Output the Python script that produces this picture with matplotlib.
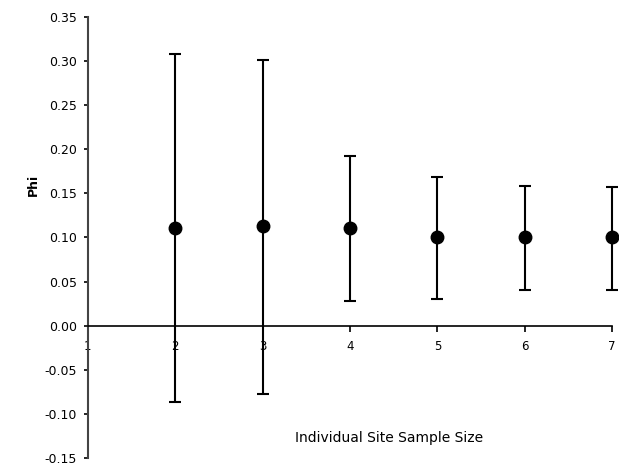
import numpy as np
import matplotlib
matplotlib.use("Agg")
import matplotlib.pyplot as plt

sample_size = [2, 3, 4, 5, 6, 7]
phi = [0.111, 0.113, 0.111, 0.100, 0.100, 0.100]
upper = [0.308, 0.301, 0.192, 0.169, 0.158, 0.157]
lower = [-0.087, -0.078, 0.028, 0.030, 0.040, 0.041]

phi_a = np.array(phi)
err = [phi_a - np.array(lower), np.array(upper) - phi_a]

plt.rcParams['font.family'] = ['DejaVu Sans']
fig = plt.figure(figsize=(6.19, 4.68), dpi=100, facecolor="white")
ax = fig.add_axes([0.142, 0.0214, 0.847, 0.9423])

markers, caps, bars = ax.errorbar(sample_size, phi, yerr=err, fmt='o', color='black',
                                  markersize=9, elinewidth=1.5, capsize=4.3, capthick=1.5)
markers.set_clip_on(False)
for c in caps:
    c.set_clip_on(False)
for b in bars:
    b.set_clip_on(False)

ax.set_xlim(1, 7)
ax.set_ylim(-0.15, 0.35)
yt = np.arange(-0.15, 0.351, 0.05)
ax.set_yticks(yt)
ax.set_yticklabels(["%.2f" % v for v in yt])
ax.set_xticks(range(1, 8))

ax.spines['top'].set_visible(False)
ax.spines['right'].set_visible(False)
ax.spines['bottom'].set_position(('data', 0))
ax.spines['left'].set_color('#444444')
ax.spines['left'].set_linewidth(1.5)
ax.spines['bottom'].set_linewidth(1.2)

ax.tick_params(axis='y', direction='out', length=3, width=1.2, labelsize=9, pad=5)
ax.tick_params(axis='x', direction='out', length=4, width=1.2, labelsize=8.5, pad=6)

ax.set_ylabel("Phi", fontsize=9, fontweight='bold')
ax.yaxis.set_label_coords(-0.092, 0.62)
ax.text(4.45, -0.127, "Individual Site Sample Size", fontsize=10, ha='center', va='center')

fig.savefig("out.png", dpi=100, facecolor=fig.get_facecolor())
